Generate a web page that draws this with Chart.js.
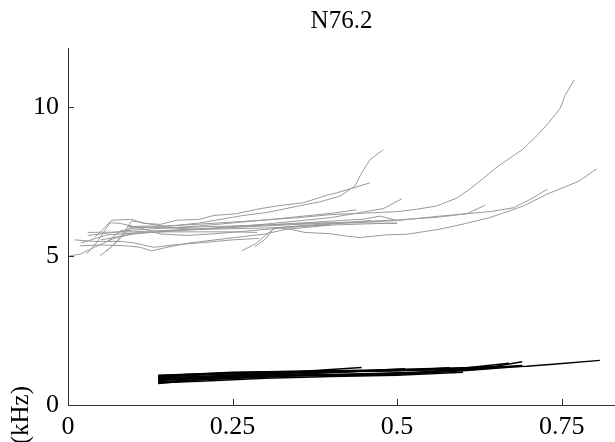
<!DOCTYPE html>
<html><head><meta charset="utf-8">
<script src="https://cdn.jsdelivr.net/npm/chart.js@4"></script>
<style>html,body{margin:0;padding:0;background:#fff}#wrap{width:615px;height:442px}</style>
</head><body><div id="wrap"><canvas id="c"></canvas></div>
<script>
/* tracks: [time (s), frequency (kHz)] */
const xTicks=[0,0.25,0.5,0.75];
const yTicks=[0,5,10];
const title='N76.2';
const yLabel='(kHz)';

// grey contours (upper band)
const g1=[[0.09,6.0],[0.15,6.02],[0.2,6.08],[0.25,6.15],[0.3,6.22],[0.35,6.3],[0.4,6.4],[0.45,6.45],[0.5,6.5],[0.53,6.58],[0.56,6.69],[0.59,6.95],[0.61,7.25],[0.63,7.6],[0.65,7.97],[0.67,8.28],[0.69,8.58],[0.71,9.0],[0.73,9.48],[0.748,9.98],[0.755,10.4],[0.769,10.93]];
const g2=[[0.264,5.18],[0.285,5.42],[0.3,5.7],[0.315,5.96],[0.337,5.91],[0.36,5.8],[0.398,5.76],[0.418,5.69],[0.444,5.63],[0.484,5.72],[0.515,5.74],[0.565,5.91],[0.6,6.08],[0.641,6.3],[0.692,6.69],[0.727,7.08],[0.776,7.52],[0.803,7.94]];
const g3=[[0.284,5.32],[0.3,5.58],[0.312,5.94],[0.35,6.02],[0.4,6.1],[0.45,6.15],[0.5,6.2],[0.565,6.35],[0.641,6.5],[0.677,6.63],[0.702,6.91],[0.728,7.25]];
const g4=[[0.05,5.55],[0.1,5.75],[0.15,5.85],[0.2,5.92],[0.3,6.02],[0.4,6.12],[0.5,6.22],[0.565,6.32],[0.606,6.43],[0.634,6.72]];
const g5=[[0.04,5.63],[0.053,5.9],[0.066,6.21],[0.097,6.24],[0.114,6.11],[0.14,6.07],[0.165,6.21],[0.2,6.24],[0.221,6.37],[0.256,6.43],[0.287,6.58],[0.317,6.69],[0.358,6.8],[0.393,7.05],[0.408,7.13],[0.434,7.3],[0.459,7.47]];
const g6=[[0.06,5.5],[0.08,5.85],[0.1,5.95],[0.15,6.0],[0.2,6.12],[0.266,6.37],[0.302,6.47],[0.337,6.63],[0.383,6.83],[0.413,7.02],[0.436,7.36],[0.446,7.8],[0.459,8.25],[0.479,8.58]];
const g7=[[0.02,5.45],[0.06,5.72],[0.12,5.8],[0.2,5.9],[0.3,6.08],[0.4,6.3],[0.444,6.47],[0.479,6.6],[0.507,6.93]];
const g8=[[0.03,5.7],[0.1,5.88],[0.2,6.02],[0.3,6.22],[0.403,6.45],[0.438,6.56]];
const g9=[[0.03,5.8],[0.1,5.82],[0.2,5.92],[0.3,6.05],[0.4,6.18],[0.45,6.25],[0.474,6.35],[0.497,6.22]];
const g10=[[0.0,5.0],[0.02,5.08],[0.04,5.3],[0.07,5.6],[0.1,5.78],[0.15,5.82],[0.2,5.82],[0.25,5.82],[0.287,5.8]];
const g11=[[0.018,5.35],[0.05,5.38],[0.089,5.35],[0.11,5.3],[0.127,5.18],[0.15,5.3],[0.185,5.45],[0.25,5.62],[0.3,5.75],[0.33,5.9],[0.4,6.05],[0.5,6.12]];
const g12=[[0.028,5.07],[0.045,5.5],[0.064,6.13],[0.08,6.1],[0.1,6.0],[0.15,5.95],[0.22,6.0],[0.3,6.05],[0.38,6.12],[0.45,6.12],[0.5,6.1]];
const g13=[[0.049,5.02],[0.065,5.3],[0.08,5.65],[0.097,6.19],[0.12,6.1],[0.16,5.95],[0.2,5.9],[0.3,5.95],[0.4,6.05]];
const g14=[[0.059,5.18],[0.075,5.5],[0.094,5.96],[0.11,5.95],[0.14,5.75],[0.18,5.7],[0.22,5.75],[0.3,5.9],[0.4,6.08],[0.46,6.2]];
const g15=[[0.01,5.55],[0.04,5.5],[0.08,5.5],[0.1,5.45],[0.13,5.3],[0.16,5.38],[0.2,5.45],[0.25,5.55],[0.29,5.6]];

// black contours (lower band)
const b1=[[0.137,1.0],[0.3,1.12],[0.45,1.17],[0.6,1.25],[0.697,1.3],[0.737,1.37],[0.808,1.5]];
const b2=[[0.137,0.95],[0.25,1.05],[0.4,1.12],[0.55,1.18],[0.65,1.3],[0.69,1.45]];
const b3=[[0.137,0.9],[0.3,1.05],[0.446,1.26]];
const b4=[[0.137,0.85],[0.25,0.97],[0.4,1.08],[0.512,1.22]];
const b5=[[0.137,0.78],[0.3,0.97],[0.5,1.05],[0.6,1.15],[0.69,1.3]];
const b6=[[0.137,0.72],[0.2,0.85],[0.35,0.98],[0.45,1.0],[0.55,1.08],[0.65,1.25]];
const b7=[[0.137,0.98],[0.25,1.1],[0.45,1.15],[0.6,1.2],[0.69,1.33]];
const b8=[[0.137,0.92],[0.3,1.0],[0.5,1.05],[0.62,1.22]];
const b9=[[0.137,0.82],[0.27,0.95],[0.4,1.02],[0.55,1.12],[0.67,1.4]];
const b10=[[0.137,0.88],[0.35,1.08],[0.5,1.15],[0.58,1.25]];
const b11=[[0.137,0.75],[0.2,0.8],[0.3,0.9],[0.4,0.96],[0.5,1.0],[0.6,1.1]];
const b12=[[0.137,0.96],[0.2,1.02],[0.3,1.08],[0.42,1.15]];

const greys=[g1,g2,g3,g4,g5,g6,g7,g8,g9,g10,g11,g12,g13,g14,g15];
const blacks=[b1,b2,b3,b4,b5,b6,b7,b8,b9,b10,b11,b12];

const FONT="'Liberation Serif','Times New Roman',serif";
const mk=(pts,col,w)=>({data:pts.map(p=>({x:p[0],y:p[1]})),borderColor:col,borderWidth:w,showLine:true,pointRadius:0,tension:0,fill:false});
const ds=[...greys.map(p=>mk(p,'#9a9a9a',1)),...blacks.map(p=>mk(p,'#000',1.5))];

// inside tick marks + rotated y label (MATLAB look)
const decor={id:'decor',afterDraw(ch){
  const {ctx,chartArea:a,scales:{x,y}}=ch;
  ctx.save();ctx.strokeStyle='#333';ctx.lineWidth=1;ctx.beginPath();
  xTicks.forEach(v=>{const px=Math.round(x.getPixelForValue(v))+.5;ctx.moveTo(px,a.bottom);ctx.lineTo(px,a.bottom-6);});
  yTicks.forEach(v=>{const py=Math.round(y.getPixelForValue(v))+.5;ctx.moveTo(a.left,py);ctx.lineTo(a.left+6,py);});
  ctx.stroke();
  ctx.translate(21,386);ctx.rotate(-Math.PI/2);
  ctx.font="25px "+FONT;ctx.fillStyle='#000';ctx.textAlign='right';ctx.textBaseline='middle';
  ctx.fillText(yLabel,0,0);
  ctx.restore();
}};

new Chart(document.getElementById('c'),{type:'scatter',data:{datasets:ds},
  options:{responsive:true,maintainAspectRatio:false,animation:false,devicePixelRatio:1,
    layout:{padding:0},
    plugins:{legend:{display:false},tooltip:{enabled:false},
      title:{display:true,text:title,fullSize:false,color:'#000',font:{family:FONT,size:25,weight:'normal',lineHeight:1.2},padding:{top:6,bottom:12}}},
    scales:{
      x:{type:'linear',min:0,max:0.831,grid:{display:false,drawTicks:false,tickLength:0},border:{display:true,color:'#333',width:1},
        afterBuildTicks:s=>{s.ticks=xTicks.map(v=>({value:v}));},
        afterFit:s=>{s.height=37;},
        ticks:{color:'#000',padding:7,font:{family:FONT,size:26},maxRotation:0,callback:v=>String(v)}},
      y:{type:'linear',min:0,max:12,grid:{display:false,drawTicks:false,tickLength:0},border:{display:true,color:'#333',width:1},
        afterBuildTicks:s=>{s.ticks=yTicks.map(v=>({value:v}));},
        afterFit:s=>{s.width=68;},
        ticks:{color:'#000',padding:9,font:{family:FONT,size:26},callback:v=>String(v)}}}},
  plugins:[decor]});
</script></body></html>
